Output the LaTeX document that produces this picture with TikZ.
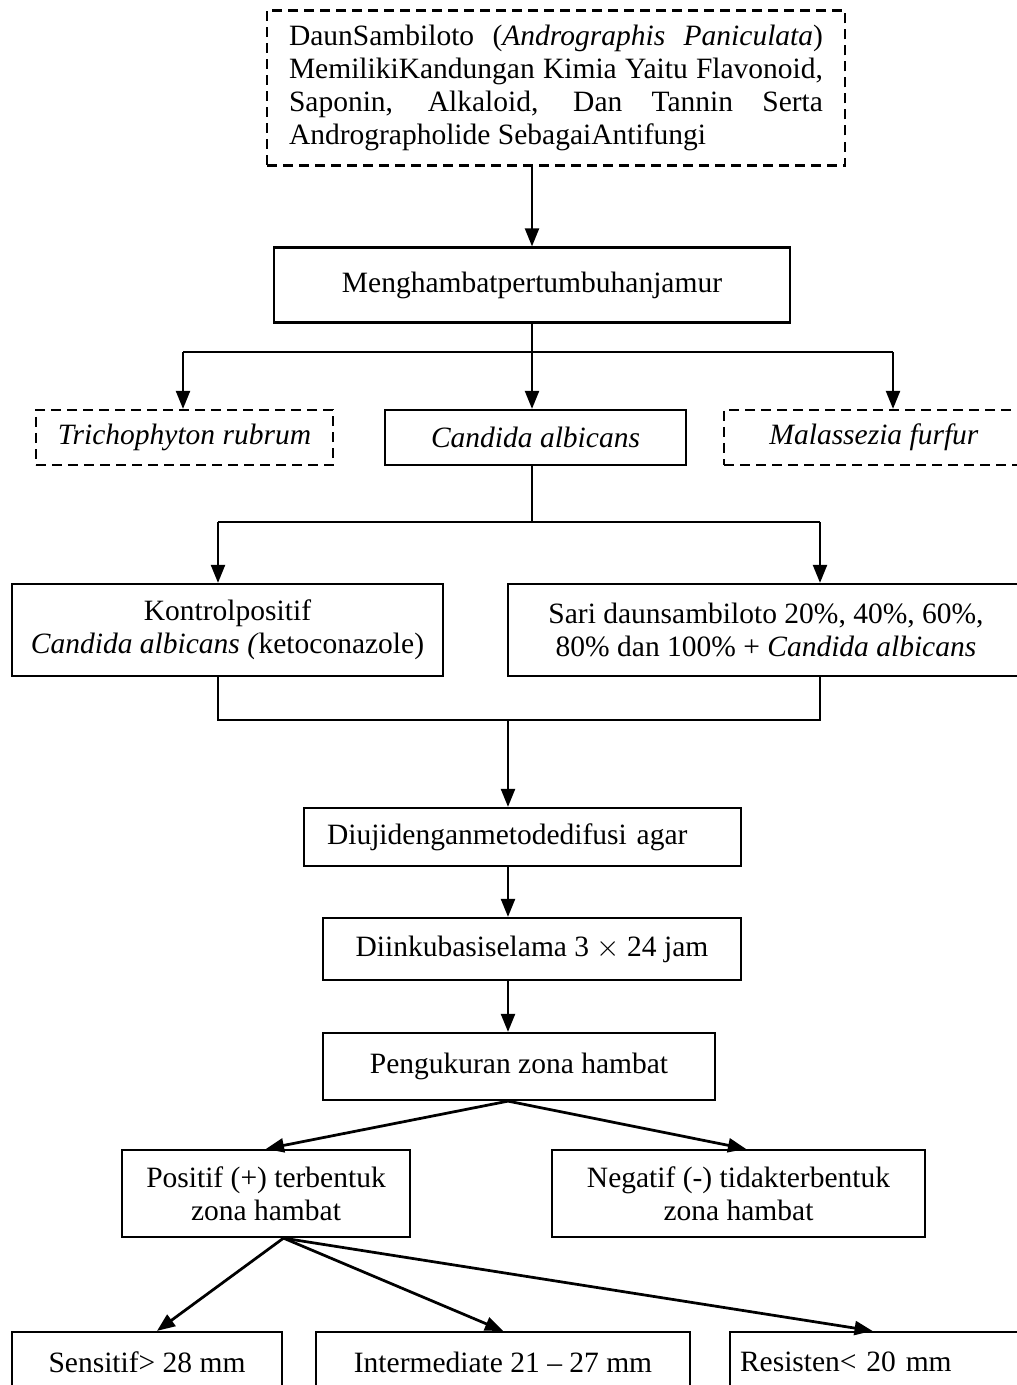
\documentclass[tikz,border=0pt]{standalone}
\usepackage{fontspec}
\setmainfont{Liberation Serif}
\usepackage{tikz}
\usetikzlibrary{arrows.meta,positioning}
\hyphenpenalty=10000
\tolerance=10000

\begin{document}
\begin{tikzpicture}[x=0.4pt, y=-0.4pt,
  every node/.style={font=\fontsize{11.8}{13.2}\selectfont},
  box/.style={draw, line width=0.9pt, inner sep=3pt, align=center},
  dbox/.style={box, dash pattern=on 4pt off 2.4pt},
  line/.style={line width=0.9pt},
  arr/.style={line, -{Triangle[width=5.6pt,length=7.2pt]}}]
\clip (0,0) rectangle (1017,1385);
% Top: kandungan daun sambiloto
\node[dbox, minimum width=231.2pt, minimum height=62pt, text width=213.6pt, align=justify] (daun) at (556,88)
  {DaunSambiloto (\textit{Andrographis Paniculata})\linebreak MemilikiKandungan Kimia Yaitu Flavonoid,\linebreak Saponin, Alkaloid, Dan Tannin Serta\linebreak Andrographolide SebagaiAntifungi};
\node[box, minimum width=206.4pt, minimum height=30pt] (hambat) at (532,285) {Menghambatpertumbuhanjamur};

% Jamur
\node[dbox, minimum width=118.8pt, minimum height=22pt] (tricho) at (184.5,437.5) {\textit{Trichophyton rubrum}};
\node[box, minimum width=120.4pt, minimum height=22pt] (candida) at (535.5,437.5) {\textit{Candida albicans}};
\node[dbox, minimum width=120pt, minimum height=22pt] (malas) at (874,437.5) {\textit{Malassezia furfur}};

% Perlakuan
\node[box, minimum width=172.4pt, minimum height=36.8pt] (kontrol) at (227.5,630)
  {Kontrolpositif\\\textit{Candida albicans (}ketoconazole)};
\node[box, minimum width=206.4pt, minimum height=36.8pt] (sari) at (766,630)
  {Sari daunsambiloto 20\%, 40\%, 60\%,\\80\% dan 100\% + \textit{Candida albicans}};

% Alur uji
\node[box, align=left, text width=156.4pt, inner xsep=9.2pt, minimum height=23.2pt] (uji) at (522.5,837) {Diujidenganmetodedifusi agar};
\node[box, minimum width=167.2pt, minimum height=24.8pt] (inkubasi) at (532,949) {Diinkubasiselama 3 $\times$ 24 jam};
\node[box, minimum width=156.8pt, minimum height=26.8pt] (ukur) at (519,1066.5) {Pengukuran zona hambat};

% Hasil
\node[box, minimum width=115.2pt, minimum height=34.8pt] (positif) at (266,1193.5) {Positif (+) terbentuk\\zona hambat};
\node[box, minimum width=149.2pt, minimum height=34.8pt] (negatif) at (738.5,1193.5) {Negatif (-) tidakterbentuk\\zona hambat};
\node[box, minimum width=108pt, minimum height=24pt] (sensitif) at (147,1362) {Sensitif> 28 mm};
\node[box, minimum width=149.6pt, minimum height=24pt] (inter) at (503,1362) {Intermediate 21 -- 27 mm};
\node[box, align=left, text width=112pt, inner xsep=4pt, minimum height=24pt] (resisten) at (880,1362) {Resisten< 20 mm};

% Connectors
\coordinate (j1) at (532,352);
\coordinate (jt) at (183,352);
\coordinate (jm) at (893,352);
\draw[arr] (daun.south -| hambat.north) -- (hambat.north);
\draw[line] (hambat.south) -- (j1);
\draw[line] (jt) -- (jm);
\draw[arr] (jt) -- (jt |- tricho.north);
\draw[arr] (j1) -- (j1 |- candida.north);
\draw[arr] (jm) -- (jm |- malas.north);

\coordinate (j2) at (532,522);
\coordinate (jk) at (218,522);
\coordinate (js) at (820,522);
\draw[line] (j2 |- candida.south) -- (j2);
\draw[line] (jk) -- (js);
\draw[arr] (jk) -- (jk |- kontrol.north);
\draw[arr] (js) -- (js |- sari.north);

\coordinate (j3) at (508,720);
\draw[line] (jk |- kontrol.south) -- (jk |- j3) -- (js |- j3) -- (js |- sari.south);
\draw[arr] (j3) -- (j3 |- uji.north);
\draw[arr] (j3 |- uji.south) -- (j3 |- inkubasi.north);
\draw[arr] (j3 |- inkubasi.south) -- (j3 |- ukur.north);

\coordinate (j4) at (j3 |- ukur.south);
\draw[arr, line width=1.1pt] (j4) -- (positif.north);
\draw[arr, line width=1.1pt] (j4) -- ([xshift=3pt]negatif.north);

\coordinate (j5) at ([xshift=7pt]positif.south);
\draw[arr, line width=1.1pt] (j5) -- ([xshift=4pt]sensitif.north);
\draw[arr, line width=1.1pt] (j5) -- (inter.north);
\draw[arr, line width=1.1pt] (j5) -- ([xshift=-3pt]resisten.north);
\end{tikzpicture}
\end{document}
